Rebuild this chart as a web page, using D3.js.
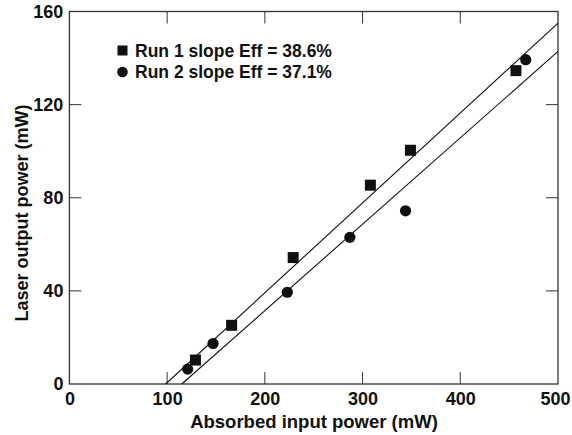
<!DOCTYPE html>
<html>
<head>
<meta charset="utf-8">
<script src="https://cdn.jsdelivr.net/npm/d3@7"></script>
<style>
  html, body { margin: 0; padding: 0; background: #fff; }
  svg text { font-family: "Liberation Sans", Arial, Helvetica, sans-serif; font-weight: bold; fill: #111; }
</style>
</head>
<body>
<svg id="chart" width="572" height="435"></svg>
<script>
// ---- data ----
const run1X = [129, 166, 229, 308, 349, 457];
const run1Y = [10.3, 25.2, 54.3, 85.4, 100.4, 134.6];
const run2X = [121, 147, 223, 287, 344, 467];
const run2Y = [6.4, 17.4, 39.4, 63, 74.4, 139.3];
const seriesNames = ["Run 1 slope Eff = 38.6%", "Run 2 slope Eff = 37.1%"];
const fitSlopes = [0.386, 0.371];      // mW out per mW absorbed
const fitThresholds = [98.5, 115];     // x-intercepts (mW)
const xTicks = [0, 100, 200, 300, 400, 500];
const yTicks = [0, 40, 80, 120, 160];
const xTitle = "Absorbed input power (mW)";
const yTitle = "Laser output power (mW)";

// ---- layout ----
const svg = d3.select("#chart");
const x = d3.scaleLinear().domain([0, 500]).range([69.4, 558]);
const y = d3.scaleLinear().domain([0, 160]).range([384, 11.5]);
const ink = "#111";
const tickLen = 12;

// frame
svg.append("rect")
  .attr("x", x(0)).attr("y", y(160))
  .attr("width", x(500) - x(0)).attr("height", y(0) - y(160))
  .attr("fill", "none").attr("stroke", "#333").attr("stroke-width", 1.3);

// axes (inward ticks on all four sides)
const fs = 18;
const bottom = svg.append("g").attr("transform", `translate(0,${y(0)})`)
  .call(d3.axisBottom(x).tickValues(xTicks).tickSize(0).tickPadding(6).tickFormat(d3.format("d")));
const left = svg.append("g").attr("transform", `translate(${x(0)},0)`)
  .call(d3.axisLeft(y).tickValues(yTicks).tickSize(0).tickPadding(6).tickFormat(d3.format("d")));
[bottom, left].forEach(g => {
  g.select(".domain").remove();
  g.selectAll("text").style("font-size", fs + "px").attr("fill", ink);
});
bottom.selectAll("text").attr("dy", "0.85em");
bottom.selectAll(".tick").filter(d => d === 500).select("text").attr("dx", -3);

const innerX = xTicks.filter(v => v > 0 && v < 500);
const innerY = yTicks.filter(v => v > 0 && v < 160);
const tk = svg.append("g").attr("stroke", "#333").attr("stroke-width", 1);
innerX.forEach(v => {
  tk.append("line").attr("x1", x(v)).attr("x2", x(v)).attr("y1", y(0)).attr("y2", y(0) - tickLen);
  tk.append("line").attr("x1", x(v)).attr("x2", x(v)).attr("y1", y(160)).attr("y2", y(160) + tickLen);
});
innerY.forEach(v => {
  tk.append("line").attr("y1", y(v)).attr("y2", y(v)).attr("x1", x(0)).attr("x2", x(0) + tickLen);
  tk.append("line").attr("y1", y(v)).attr("y2", y(v)).attr("x1", x(500)).attr("x2", x(500) - tickLen);
});

// fit lines
fitSlopes.forEach((s, i) => {
  const x0 = fitThresholds[i];
  const x1 = 500;
  svg.append("line")
    .attr("x1", x(x0)).attr("y1", y(0))
    .attr("x2", x(x1)).attr("y2", y(s * (x1 - x0)))
    .attr("stroke", ink).attr("stroke-width", 1.1);
});

// markers
const sq = 11;
svg.append("g").selectAll("rect").data(run1X.map((v, i) => [v, run1Y[i]])).join("rect")
  .attr("x", d => x(d[0]) - sq / 2).attr("y", d => y(d[1]) - sq / 2)
  .attr("width", sq).attr("height", sq).attr("fill", ink);
svg.append("g").selectAll("circle").data(run2X.map((v, i) => [v, run2Y[i]])).join("circle")
  .attr("cx", d => x(d[0])).attr("cy", d => y(d[1])).attr("r", 5.6).attr("fill", ink);

// legend
const lg = svg.append("g");
const legY = [56.5, 77.5];
lg.append("rect").attr("x", 117.5).attr("y", legY[0] - 11).attr("width", 10).attr("height", 10).attr("fill", ink);
lg.append("circle").attr("cx", 122.5).attr("cy", legY[1] - 5.5).attr("r", 5.3).attr("fill", ink);
seriesNames.forEach((t, i) => {
  lg.append("text").attr("x", 135).attr("y", legY[i]).style("font-size", "17.5px").text(t);
});

// axis titles
svg.append("text").attr("x", 314).attr("y", 428).attr("text-anchor", "middle")
  .style("font-size", "18.5px").text(xTitle);
svg.append("text").attr("transform", `translate(28,213) rotate(-90)`).attr("text-anchor", "middle")
  .style("font-size", "18px").text(yTitle);
</script>
</body>
</html>
